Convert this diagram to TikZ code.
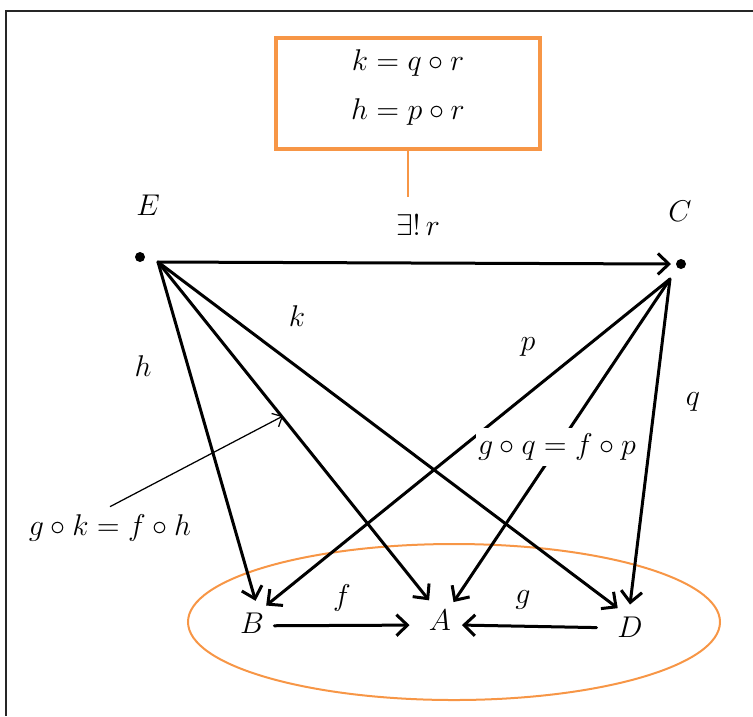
\documentclass[tikz,border=0pt]{standalone}
\usetikzlibrary{arrows.meta}
\definecolor{orng}{RGB}{247,150,70}
\begin{document}
\begin{tikzpicture}[x=0.4pt,y=-0.4pt,
  font=\fontsize{12.5}{14}\selectfont,
  arr/.style={line width=1.2pt,-{Straight Barb[length=4.4pt,width=8.4pt]},line cap=round,line join=round},
  thinarr/.style={line width=0.5pt,-{Straight Barb[length=3.2pt,width=6pt]}},
  dotnode/.style={circle,fill=black,inner sep=0pt,minimum size=4pt},
  obj/.style={circle,inner sep=0pt,minimum size=17.6pt},
  lbl/.style={inner sep=1pt},
  orangebox/.style={draw=orng,line width=1.3pt,minimum width=105.6pt,minimum height=44.4pt,inner sep=0pt}]
\useasboundingbox (0,0) rectangle (753,716);
% frame
\draw[line width=0.6pt,black!85] (753,11) -- (6,11) -- (6,716);
% top box
\node[orangebox] (box) at (408,93.5) {};
\node[lbl] (eq1) at (408,63) {$k = q\circ r$};
\node[lbl] (eq2) at (408,112) {$h = p\circ r$};
\coordinate (rtop) at (408,197);
\draw[orng,line width=1pt] (box.south) -- (rtop);
\node[lbl] (r) at (418,225) {$\exists!\,r$};
% objects
\node[dotnode] (E) at (140,257) {};
\node[dotnode,outer sep=2pt] (C) at (681,264) {};
\node[lbl] (Elab) at (148,205) {$E$};
\node[lbl] (Clab) at (680,211) {$C$};
\coordinate (E0) at (158,262);
\coordinate (C0) at (670,279);
\node[obj] (B) at (252,623) {$B$};
\node[obj] (A) at (440,620) {$A$};
\node[obj] (D) at (630,627) {$D$};
% ellipse
\draw[orng,line width=0.8pt] (454,622) ellipse [x radius=266, y radius=78];
% arrows
\draw[arr] (E0) -- (C.west);
\draw[arr] (E0) -- (B.81);
\draw[arr] (E0) -- (A.119);
\draw[arr] (E0) -- (D.123);
\draw[arr] (C0) -- (B.51);
\draw[arr] (C0) -- (A.53);
\draw[arr] (C0) -- (D.90);
\draw[arr,shorten >=3.4pt] (B.-7) -- (A.193);
\draw[arr,shorten <=4.4pt] (D.182) -- (A.-13);
% labels
\node[lbl] (k) at (297,316) {$k$};
\node[lbl] (h) at (143,366) {$h$};
\node[lbl] (p) at (528,347) {$p$};
\node[lbl] (q) at (693,402) {$q$};
\node[lbl] (f) at (342,598) {$f$};
\node[lbl] (g) at (523,600) {$g$};
\node[fill=white,inner xsep=1pt,inner ysep=2.4pt] (gq) at (557,447) {$g\circ q = f\circ p$};
\node[inner sep=3pt] (gk) at (110,528) {$g\circ k = f\circ h$};
\coordinate (gktip) at (283,416);
\draw[thinarr] (gk.north) -- (gktip);
\end{tikzpicture}
\end{document}
